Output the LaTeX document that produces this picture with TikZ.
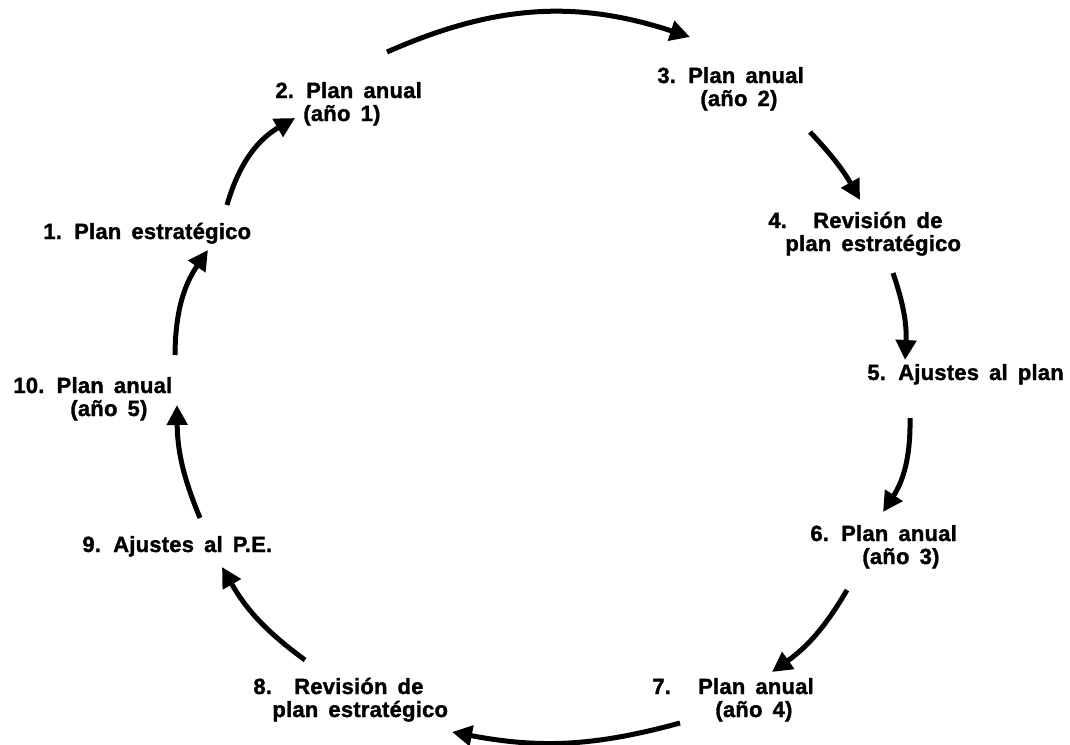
\documentclass[tikz,border=0pt]{standalone}
\usepackage{fontspec}
\newfontfamily\stagefont{Liberation Sans Bold}[LetterSpace=1, WordSpace=1.6, FakeBold=1.5]
\usepackage{tikz}
\usetikzlibrary{arrows.meta}

\begin{document}
\begin{tikzpicture}[x=0.5pt, y=-0.5pt,
    stage/.style={anchor=base west, align=left, inner sep=0pt,
        font=\stagefont\fontsize{11}{11.5}\selectfont},
    flow/.style={-{Triangle[length=10pt,width=10pt]}, line width=2.5pt}]
    \useasboundingbox (0,0) rectangle (1070,744);
    % stages of the cycle (base = last line)
    \node[stage] (s1)  at (43,239)  {1. Plan estratégico};
    \node[stage] (s2)  at (275,121) {2. Plan anual\\\hspace*{14pt}(año 1)};
    \node[stage] (s3)  at (657,106) {3. Plan anual\\\hspace*{21.5pt}(año 2)};
    \node[stage] (s4)  at (768,251) {4.\hspace{7pt} Revisión de\\\hspace*{8.5pt}plan estratégico};
    \node[stage] (s5)  at (867,380) {5. Ajustes al plan};
    \node[stage] (s6)  at (810,564) {6. Plan anual\\\hspace*{26pt}(año 3)};
    \node[stage] (s7)  at (652,717) {7.\hspace{7.5pt} Plan anual\\\hspace*{31.5pt}(año 4)};
    \node[stage] (s8)  at (253,717) {8.\hspace{5pt} Revisión de\\\hspace*{9.5pt}plan estratégico};
    \node[stage] (s9)  at (82,552)  {9. Ajustes al P.E.};
    \node[stage] (s10) at (13,416)  {10. Plan anual\\\hspace*{28.5pt}(año 5)};
    % arrows
    \draw[flow] ([shift={(184,-34)}]s1.base west)  to[bend left=22] ([shift={(20,-3)}]s2.base west);
    \draw[flow] ([shift={(112,-69)}]s2.base west)  to[bend left=21] ([shift={(33,-69)}]s3.base west);
    \draw[flow] ([shift={(153,26)}]s3.base west)   to[bend left=7]  ([shift={(92,-51)}]s4.base west);
    \draw[flow] ([shift={(125,22)}]s4.base west)   to[bend left=11] ([shift={(38,-20)}]s5.base west);
    \draw[flow] ([shift={(43,38)}]s5.base west)    to[bend left=17] ([shift={(73,-52)}]s6.base west);
    \draw[flow] ([shift={(37,26)}]s6.base west)    to[bend left=12] ([shift={(120,-45)}]s7.base west);
    \draw[flow] ([shift={(28,6)}]s7.base west)     to[bend left=13] ([shift={(199,15)}]s8.base west);
    \draw[flow] ([shift={(52,-57)}]s8.base west)   to[bend left=12] ([shift={(140,15)}]s9.base west);
    \draw[flow] ([shift={(118,-34)}]s9.base west)  to[bend left=11] ([shift={(164,-11)}]s10.base west);
    \draw[flow] ([shift={(162,-61)}]s10.base west) to[bend left=17] ([shift={(165,11)}]s1.base west);
\end{tikzpicture}
\end{document}
